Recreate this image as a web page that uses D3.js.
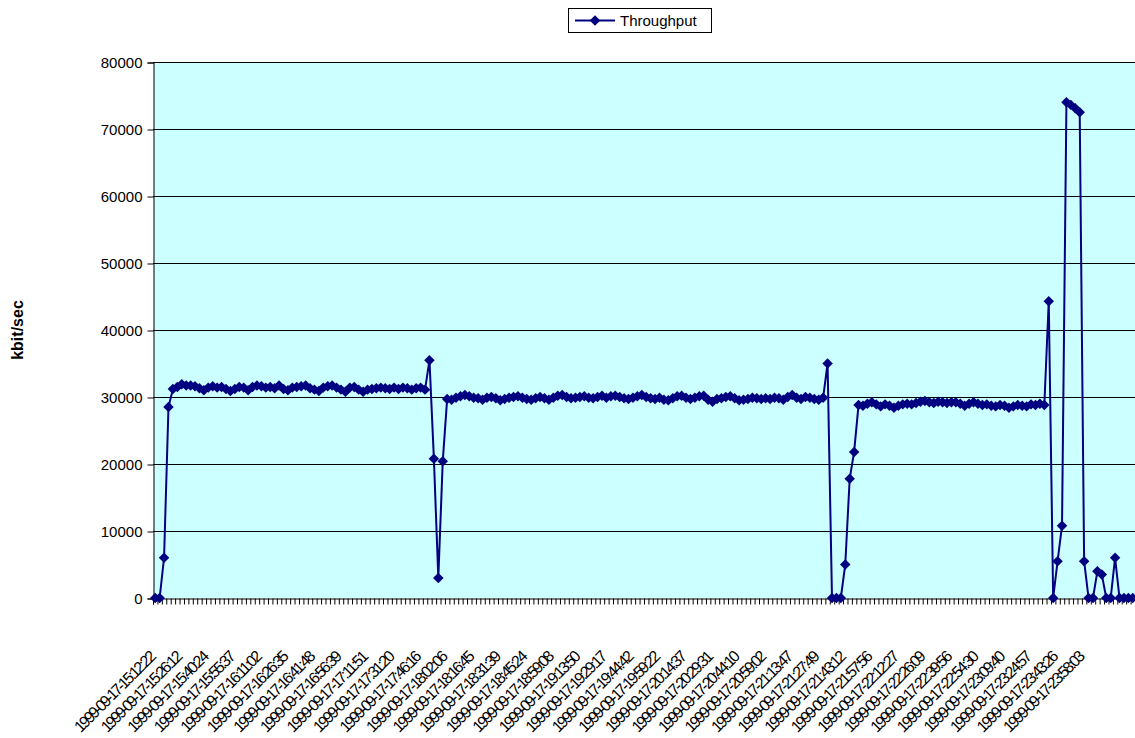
<!DOCTYPE html>
<html>
<head>
<meta charset="utf-8">
<script src="https://cdn.jsdelivr.net/npm/d3@7"></script>
<style>
  body { margin: 0; background: #fff; }
  text { font-family: Arial, "Liberation Sans", sans-serif; }
</style>
</head>
<body>
<svg id="chart" width="1135" height="738"></svg>
<script>
// throughput samples, kbit/sec, one per category
var throughput = [
  0, 0, 6000, 28500,
  // first plateau
  31200,31500,31900,31700,31700,31600,31300,31000,31400,31600,
  31400,31500,31200,30900,31200,31500,31400,31000,31500,31700,
  31600,31400,31500,31300,31700,31200,31000,31400,31500,31600,
  31700,31300,31100,30900,31400,31600,31700,31400,31100,30800,
  31400,31500,31100,30800,31100,31200,31300,31400,31300,31200,
  31400,31200,31400,31300,31100,31300,31400,31100,
  35500, 20800, 3000, 20400, 29700,
  // second plateau
  29600,29900,30100,30300,30100,29900,29800,29600,29900,30000,
  29800,29500,29700,29900,30000,30100,29900,29700,29600,29800,
  30000,29800,29600,29900,30200,30300,30000,29800,29900,30000,
  30100,29900,29800,30000,30200,29900,30100,30200,30000,29800,
  29700,29900,30100,30300,30000,29800,29700,29900,29600,29500,
  29800,30100,30200,29900,29700,29900,30100,30200,29600,29300,
  29700,29800,30000,30100,29800,29500,29600,29700,29900,29800,
  29700,29800,29700,29900,29800,29600,30000,30300,29900,29700,
  30000,29900,29700,29600,29900,
  35000, 0, 0, 0, 5000, 17800, 21800, 28800,
  // third plateau
  28700,29000,29200,28900,28600,28900,28700,28400,28700,28900,
  29000,28900,29100,29300,29400,29200,29100,29300,29200,29100,
  29200,29200,29000,28700,29000,29200,29000,28800,28900,28700,
  28600,28800,28700,28400,28600,28800,28700,28600,28900,28800,
  29000,28800,
  44300, 0, 5500, 10800, 74000, 73600, 73100, 72500, 5500, 0,
  0, 4000, 3500, 0, 0, 6000, 0, 0, 0, 0
]

// every 6th category carries a label
var labelEvery = 6
var tickLabels = [
  "1999-09-17-15:12:22","1999-09-17-15:26:12","1999-09-17-15:40:24","1999-09-17-15:55:37",
  "1999-09-17-16:11:02","1999-09-17-16:26:35","1999-09-17-16:41:48","1999-09-17-16:56:39",
  "1999-09-17-17:11:51","1999-09-17-17:31:20","1999-09-17-17:46:16","1999-09-17-18:02:06",
  "1999-09-17-18:16:45","1999-09-17-18:31:39","1999-09-17-18:45:24","1999-09-17-18:59:08",
  "1999-09-17-19:13:50","1999-09-17-19:29:17","1999-09-17-19:44:42","1999-09-17-19:59:22",
  "1999-09-17-20:14:37","1999-09-17-20:29:31","1999-09-17-20:44:10","1999-09-17-20:59:02",
  "1999-09-17-21:13:47","1999-09-17-21:27:49","1999-09-17-21:43:12","1999-09-17-21:57:56",
  "1999-09-17-22:12:27","1999-09-17-22:26:09","1999-09-17-22:39:56","1999-09-17-22:54:30",
  "1999-09-17-23:09:40","1999-09-17-23:24:57","1999-09-17-23:43:26","1999-09-17-23:58:03"
]
var yTicks = [0,10000,20000,30000,40000,50000,60000,70000,80000]

var svg = d3.select("#chart")
var plotLeft = 153, plotRight = 1135, plotTop = 62, plotBottom = 598
var n = throughput.length

var x = d3.scaleBand().domain(d3.range(n)).range([plotLeft, plotRight])
var xEdge = d3.scaleLinear().domain([0, n]).range([plotLeft, plotRight])
var y = d3.scaleLinear().domain([0, 80000]).range([plotBottom, plotTop])
var cx = function(i){ return x(i) + x.bandwidth()/2 }

// plot area
svg.append("rect")
   .attr("x", plotLeft).attr("y", plotTop)
   .attr("width", plotRight-plotLeft).attr("height", plotBottom-plotTop)
   .attr("fill", "#CCFFFF")

// gridlines
svg.append("g")
   .selectAll("line")
   .data(yTicks.filter(d => d > 0))
   .enter().append("line")
   .attr("x1", plotLeft).attr("x2", plotRight)
   .attr("y1", d => Math.round(y(d)) + 0.5)
   .attr("y2", d => Math.round(y(d)) + 0.5)
   .attr("stroke", "#000").attr("stroke-width", 1)

// y axis
var yAxis = svg.append("g")
   .attr("transform", "translate(" + (plotLeft+0.5) + ",0.5)")
   .call(d3.axisLeft(y).tickValues(yTicks).tickSize(6).tickPadding(5).tickFormat(d3.format("d")))
yAxis.select(".domain").attr("stroke", "#000")
yAxis.selectAll("text").style("font-size", "15px").attr("fill", "#000")

// x axis: a tick at every category boundary
var xAxis = svg.append("g")
   .attr("transform", "translate(0," + (plotBottom+0.5) + ")")
   .call(d3.axisBottom(xEdge).tickValues(d3.range(n+1)).tickSize(6).tickFormat(""))
xAxis.select(".domain").attr("stroke", "#000")
xAxis.selectAll("line").attr("stroke", "#000")

// category labels, rotated
svg.append("g")
   .selectAll("text")
   .data(tickLabels)
   .enter().append("text")
   .attr("transform", (d, j) => "translate(" + (cx(j*labelEvery)+2) + ",657) rotate(-45)")
   .attr("text-anchor", "end")
   .attr("textLength", 108)
   .attr("lengthAdjust", "spacing")
   .style("font-size", "16px")
   .text(d => d)

// y title
svg.append("text")
   .attr("transform", "translate(23,330) rotate(-90)")
   .attr("text-anchor", "middle")
   .style("font-size", "16px")
   .style("font-weight", "bold")
   .text("kbit/sec")

// series line
var line = d3.line()
   .x((d, i) => cx(i))
   .y(d => y(d))
svg.append("path")
   .datum(throughput)
   .attr("d", line)
   .attr("fill", "none")
   .attr("stroke", "#000080")
   .attr("stroke-width", 2)

// diamond markers
var diamond = d3.symbol().type(d3.symbolSquare).size(55)
svg.append("g")
   .selectAll("path")
   .data(throughput)
   .enter().append("path")
   .attr("d", diamond)
   .attr("transform", (d, i) => "translate(" + cx(i) + "," + y(d) + ") rotate(45)")
   .attr("fill", "#000080")

// legend
var legend = svg.append("g").attr("transform", "translate(568,8)")
legend.append("rect")
   .attr("x", 0.5).attr("y", 0.5)
   .attr("width", 143).attr("height", 24)
   .attr("fill", "#fff").attr("stroke", "#000")
legend.append("line")
   .attr("x1", 7).attr("x2", 47).attr("y1", 12.5).attr("y2", 12.5)
   .attr("stroke", "#000080").attr("stroke-width", 2)
legend.append("path")
   .attr("d", diamond)
   .attr("transform", "translate(27,12.5) rotate(45)")
   .attr("fill", "#000080")
legend.append("text")
   .attr("x", 52).attr("y", 18)
   .style("font-size", "15px")
   .text("Throughput")
</script>
</body>
</html>
